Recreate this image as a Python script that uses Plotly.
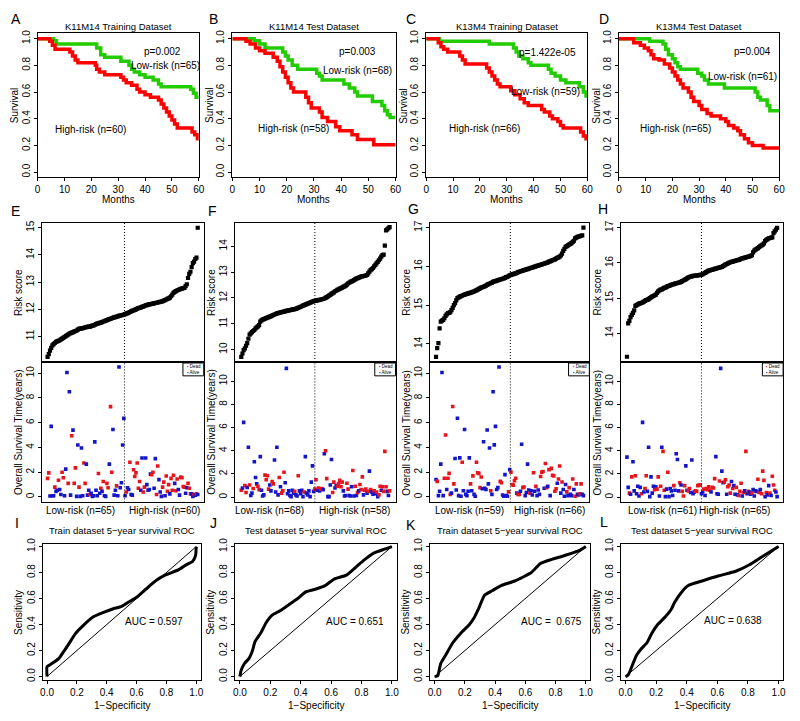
import plotly.graph_objects as go

W, H = 800, 721
FONT = "Liberation Sans, Arial, sans-serif"
GREEN = "#22cc00"
RED = "#ff0000"
DEAD = "#e8141c"
ALIVE = "#1414c8"

# ---------------- Kaplan-Meier data (months, survival) ----------------
km_titles = ["K11M14 Training Dataset", "K11M14 Test Dataset", "K13M4 Training Dataset", "K13M4 Test Dataset"]
km_pvals = ["p=0.002", "p=0.003", "p=1.422e-05", "p=0.004"]
km_low_labels = ["Low-risk (n=65)", "Low-risk (n=68)", "Low-risk (n=59)", "Low-risk (n=61)"]
km_high_labels = ["High-risk (n=60)", "High-risk (n=58)", "High-risk (n=66)", "High-risk (n=65)"]

kmA_low_t = [0, 6, 7, 22, 23.5, 25, 31, 34, 35, 36, 38, 40, 43, 45, 46, 57, 58, 59, 60]
kmA_low_s = [1, 0.985, 0.96, 0.93, 0.88, 0.86, 0.83, 0.80, 0.77, 0.75, 0.73, 0.71, 0.69, 0.66, 0.64, 0.62, 0.59, 0.56, 0.56]
kmA_high_t = [0, 4.5, 5.5, 6.5, 12, 13, 14, 15, 21.5, 22, 23, 25, 31, 32, 33, 35, 37, 38, 40, 42, 45, 46, 47, 48, 49, 50, 51, 52, 57.5, 58.5, 59.5, 60]
kmA_high_s = [1, 0.98, 0.95, 0.92, 0.90, 0.87, 0.84, 0.82, 0.80, 0.77, 0.75, 0.73, 0.71, 0.69, 0.67, 0.65, 0.62, 0.60, 0.58, 0.56, 0.54, 0.51, 0.48, 0.45, 0.42, 0.39, 0.36, 0.33, 0.30, 0.28, 0.25, 0.25]

kmB_low_t = [0, 8, 10, 12, 18.5, 19.5, 20.5, 22, 24, 31, 32, 33, 41, 43, 45, 46, 51.5, 55, 56, 57, 58, 60]
kmB_low_s = [1, 0.985, 0.96, 0.93, 0.90, 0.87, 0.84, 0.80, 0.77, 0.74, 0.72, 0.69, 0.66, 0.63, 0.60, 0.57, 0.53, 0.50, 0.46, 0.43, 0.41, 0.41]
kmB_high_t = [0, 5, 6.5, 8.5, 10, 12, 15, 16.5, 17.5, 18.5, 19.5, 20.5, 21.5, 22.5, 27, 28, 29, 32, 33, 35, 38, 39.5, 44, 46, 52, 60]
kmB_high_s = [1, 0.98, 0.96, 0.93, 0.91, 0.89, 0.86, 0.83, 0.79, 0.75, 0.71, 0.67, 0.63, 0.60, 0.56, 0.52, 0.48, 0.45, 0.41, 0.38, 0.34, 0.31, 0.28, 0.245, 0.205, 0.205]

kmC_low_t = [0, 5, 23.5, 32.5, 33.5, 34.5, 36, 38, 39, 45.5, 46.5, 48, 50, 52, 57, 58.5, 59.5, 60]
kmC_low_s = [1, 0.98, 0.96, 0.93, 0.90, 0.87, 0.85, 0.82, 0.80, 0.77, 0.74, 0.72, 0.69, 0.67, 0.64, 0.60, 0.57, 0.57]
kmC_high_t = [0, 4.5, 5.5, 6.5, 8, 12.5, 13.5, 14.5, 22.5, 23.5, 24.5, 25.5, 26.5, 27.5, 31.5, 33, 35, 36.5, 38, 43, 44, 46, 47, 49, 50, 51, 57.5, 58.5, 59.5, 60]
kmC_high_s = [1, 0.97, 0.94, 0.92, 0.90, 0.87, 0.84, 0.81, 0.78, 0.75, 0.72, 0.69, 0.66, 0.64, 0.61, 0.58, 0.55, 0.52, 0.50, 0.47, 0.45, 0.42, 0.40, 0.38, 0.35, 0.33, 0.30, 0.27, 0.25, 0.25]

kmD_low_t = [0, 11.5, 16.5, 17.5, 18.5, 20, 21, 22, 23, 29.5, 31, 32, 33.5, 39.5, 51, 52, 53, 55.5, 56.5, 60]
kmD_low_s = [1, 0.98, 0.96, 0.92, 0.88, 0.85, 0.82, 0.79, 0.77, 0.74, 0.72, 0.69, 0.66, 0.63, 0.60, 0.56, 0.54, 0.50, 0.46, 0.46]
kmD_high_t = [0, 5.5, 8, 9.5, 11, 12, 13, 15, 17, 19, 20, 21, 22, 23, 24, 26, 27, 28, 30, 31, 33, 34.5, 38, 40, 41, 43, 44.5, 45.5, 47, 48.5, 50, 54, 60]
kmD_high_s = [1, 0.97, 0.95, 0.93, 0.91, 0.88, 0.85, 0.84, 0.81, 0.78, 0.75, 0.72, 0.69, 0.66, 0.63, 0.60, 0.56, 0.53, 0.50, 0.47, 0.44, 0.42, 0.40, 0.38, 0.35, 0.33, 0.31, 0.28, 0.25, 0.22, 0.20, 0.18, 0.18]

# ---------------- Risk score (sorted) ----------------
risk_E = [
    10.25, 10.35, 10.48, 10.58, 10.67, 10.72, 10.76, 10.80, 10.82, 10.84,
    10.86, 10.89, 10.92, 10.95, 10.98, 11.01, 11.04, 11.07, 11.10, 11.12,
    11.14, 11.16, 11.18, 11.20, 11.22, 11.25, 11.28, 11.29, 11.30, 11.31,
    11.32, 11.33, 11.34, 11.35, 11.36, 11.36, 11.38, 11.40, 11.41, 11.43,
    11.45, 11.47, 11.48, 11.50, 11.51, 11.53, 11.55, 11.56, 11.58, 11.60,
    11.62, 11.64, 11.65, 11.67, 11.68, 11.70, 11.71, 11.73, 11.74, 11.76,
    11.77, 11.78, 11.79, 11.80, 11.82, 11.84, 11.86, 11.88, 11.90, 11.92,
    11.94, 11.96, 11.98, 12.00, 12.02, 12.04, 12.05, 12.07, 12.09, 12.10,
    12.12, 12.14, 12.15, 12.17, 12.18, 12.19, 12.20, 12.21, 12.22, 12.23,
    12.24, 12.25, 12.26, 12.27, 12.28, 12.30, 12.32, 12.34, 12.36, 12.38,
    12.40, 12.43, 12.48, 12.54, 12.60, 12.64, 12.67, 12.69, 12.71, 12.73,
    12.75, 12.76, 12.78, 12.79, 12.85, 12.92, 13.15, 13.30, 13.38, 13.55,
    13.70, 13.75, 13.85, 13.90, 15.00]
risk_F = [
    9.72, 9.85, 9.98, 10.05, 10.15, 10.25, 10.42, 10.58, 10.63, 10.68,
    10.72, 10.76, 10.82, 10.86, 10.90, 10.95, 11.08, 11.13, 11.16, 11.18,
    11.20, 11.22, 11.24, 11.26, 11.28, 11.30, 11.32, 11.34, 11.36, 11.38,
    11.40, 11.41, 11.42, 11.44, 11.45, 11.46, 11.47, 11.48, 11.50, 11.51,
    11.52, 11.53, 11.54, 11.55, 11.56, 11.57, 11.58, 11.60, 11.62, 11.64,
    11.66, 11.68, 11.70, 11.72, 11.74, 11.76, 11.78, 11.80, 11.82, 11.84,
    11.86, 11.88, 11.89, 11.90, 11.91, 11.92, 11.93, 11.94, 11.95, 11.96,
    11.98, 12.00, 12.03, 12.06, 12.09, 12.12, 12.16, 12.19, 12.22, 12.26,
    12.28, 12.31, 12.33, 12.36, 12.38, 12.40, 12.43, 12.45, 12.48, 12.52,
    12.56, 12.59, 12.62, 12.64, 12.66, 12.69, 12.72, 12.75, 12.77, 12.79,
    12.81, 12.83, 12.84, 12.85, 12.86, 12.87, 12.89, 12.95, 13.02, 13.08,
    13.12, 13.16, 13.22, 13.28, 13.34, 13.40, 13.46, 13.52, 13.60, 13.66,
    13.68, 14.03, 14.62, 14.66, 14.70, 14.74]
risk_G = [
    13.66, 13.89, 14.02, 14.40, 14.57, 14.60, 14.62, 14.66, 14.72, 14.76,
    14.79, 14.80, 14.82, 14.87, 14.93, 15.00, 15.05, 15.12, 15.18, 15.20,
    15.22, 15.23, 15.24, 15.26, 15.27, 15.28, 15.29, 15.30, 15.31, 15.32,
    15.33, 15.34, 15.35, 15.37, 15.38, 15.40, 15.42, 15.43, 15.45, 15.46,
    15.47, 15.49, 15.50, 15.52, 15.54, 15.55, 15.57, 15.58, 15.60, 15.61,
    15.62, 15.63, 15.64, 15.65, 15.66, 15.67, 15.68, 15.69, 15.70, 15.72,
    15.73, 15.75, 15.77, 15.78, 15.79, 15.80, 15.81, 15.82, 15.83, 15.85,
    15.86, 15.87, 15.88, 15.89, 15.90, 15.91, 15.92, 15.93, 15.94, 15.95,
    15.96, 15.97, 15.98, 15.99, 16.00, 16.01, 16.02, 16.03, 16.04, 16.05,
    16.06, 16.07, 16.08, 16.09, 16.10, 16.12, 16.13, 16.14, 16.16, 16.17,
    16.18, 16.20, 16.22, 16.23, 16.25, 16.28, 16.33, 16.40, 16.45, 16.50,
    16.52, 16.54, 16.56, 16.58, 16.60, 16.63, 16.66, 16.72, 16.74, 16.76,
    16.77, 16.78, 16.79, 16.80, 17.00]
risk_H = [
    13.33, 14.28, 14.35, 14.46, 14.52, 14.58, 14.65, 14.78, 14.80, 14.82,
    14.84, 14.85, 14.86, 14.88, 14.90, 14.92, 14.94, 14.95, 14.97, 15.00,
    15.02, 15.04, 15.06, 15.08, 15.10, 15.15, 15.19, 15.22, 15.24, 15.25,
    15.27, 15.29, 15.30, 15.32, 15.34, 15.35, 15.36, 15.38, 15.39, 15.40,
    15.41, 15.42, 15.43, 15.44, 15.45, 15.46, 15.48, 15.50, 15.52, 15.54,
    15.56, 15.58, 15.60, 15.61, 15.62, 15.63, 15.63, 15.64, 15.64, 15.65,
    15.65, 15.66, 15.66, 15.68, 15.70, 15.72, 15.74, 15.76, 15.78, 15.79,
    15.80, 15.81, 15.82, 15.83, 15.84, 15.85, 15.86, 15.87, 15.88, 15.89,
    15.91, 15.93, 15.95, 15.97, 15.99, 16.00, 16.02, 16.03, 16.04, 16.05,
    16.06, 16.07, 16.08, 16.09, 16.10, 16.12, 16.13, 16.14, 16.15, 16.16,
    16.17, 16.18, 16.19, 16.20, 16.22, 16.30, 16.35, 16.38, 16.40, 16.42,
    16.45, 16.48, 16.50, 16.52, 16.56, 16.62, 16.66, 16.68, 16.70, 16.71,
    16.72, 16.73, 16.85, 16.90, 16.95, 17.00]
risk_cut = [64.5, 63.0, 63.5, 63.0]

# ---------------- Overall survival time (years) and status D=dead, A=alive ----------------
os_E = [
    1.5, 1.95, 0.08, 5.7, 0.1, 0.1, 0.8, 0.45, 0.55, 1.35,
    0.6, 0.2, 2.0, 1.55, 0.1, 2.25, 10.05, 1.1, 8.5, 0.15,
    4.95, 5.4, 1.1, 2.35, 0.05, 4.2, 0.8, 0.05, 3.95, 0.1,
    2.75, 1.1, 2.65, 0.15, 0.55, 0.2, 0.3, 0.05, 0.1, 4.45,
    0.55, 0.1, 1.9, 0.3, 0.7, 0.45, 1.25, 0.1, 0.05, 1.1,
    0.75, 2.65, 7.3, 2.0, 5.45, 0.15, 0.55, 0.9, 0.1, 10.5,
    0.75, 1.15, 4.2, 6.35, 0.1,
    0.4, 0.75, 0.6, 2.8, 0.2, 0.15, 2.2, 1.65, 1.95, 2.75,
    0.7, 1.25, 0.55, 3.15, 0.4, 0.8, 3.15, 1.0, 0.55, 0.6,
    1.85, 1.8, 2.0, 0.7, 3.1, 0.2, 2.5, 1.4, 0.4, 0.05,
    0.8, 1.2, 0.1, 1.7, 0.45, 1.0, 0.25, 1.5, 0.55, 1.75,
    1.1, 0.5, 1.45, 0.6, 0.15, 1.6, 1.55, 0.85, 0.8, 0.3,
    0.75, 1.1, 0.7, 0.25, 0.25, 0.05, 0.2, 0.15, 0.25, 0.2]
st_E = ("DDAAAADAAD" "AADDAAADAA" "DADDAADAAA" "DDAAADAAAA" "AADADADAAD"
        "DADDAAADAA" "AAAAA" "DAADAADDDD" "DDAADDAAAA" "ADDAADDAAA"
        "DDADDDADDD" "ADDAADDDDA" "ADDDAADADA")
os_F = [
    0.6, 0.8, 6.45, 1.0, 0.4, 0.85, 4.3, 1.05, 0.15, 0.35,
    0.75, 3.05, 1.7, 1.15, 0.95, 0.65, 3.5, 0.6, 0.1, 0.2,
    1.9, 1.5, 1.85, 0.7, 1.05, 0.55, 1.35, 1.15, 3.2, 0.45,
    4.3, 0.2, 1.7, 0.9, 0.35, 0.55, 2.15, 1.25, 11.1, 0.3,
    0.55, 0.15, 0.05, 0.6, 0.35, 0.5, 0.2, 0.1, 1.85, 0.55,
    0.3, 0.6, 0.05, 0.45, 3.5, 0.35, 0.2, 0.55, 0.05, 1.3,
    2.7, 0.5, 0.7, 1.5, 0.6, 0.8, 0.55, 0.7, 0.75, 0.65,
    3.75, 4.0, 1.6, 0.05, 0.05, 1.05, 3.25, 0.4, 1.3, 0.8,
    1.0, 0.95, 1.15, 1.45, 0.9, 1.3, 0.55, 0.1, 0.15, 1.2,
    0.7, 0.15, 0.1, 0.9, 2.3, 0.1, 0.95, 0.15, 0.4, 0.55,
    1.1, 0.65, 1.75, 0.2, 0.6, 0.7, 0.35, 0.5, 2.25, 0.65,
    0.45, 0.25, 0.55, 0.3, 0.45, 0.05, 0.2, 0.95, 0.6, 0.9,
    0.5, 3.95, 0.9, 0.5, 0.15, 0.55]
st_F = ("DAADDAADAA" "DAAADDAAAA" "DDDDAADDAA" "AADADDDAAA" "AAAAADAADA"
        "AAADAAAAAA" "AADDADADDA" "ADDAAAADDA" "ADDDDDAAAD" "DAAADADADA"
        "DDDADDADAD" "AADADADDAD" "DDDAAD")
os_G = [
    1.4, 1.25, 0.1, 0.45, 2.65, 10.05, 0.1, 1.5, 5.0, 0.6,
    1.5, 1.9, 0.2, 0.3, 7.3, 1.05, 3.1, 0.55, 6.35, 0.1,
    3.15, 0.05, 2.8, 0.5, 5.45, 0.2, 0.1, 0.45, 3.15, 1.05,
    0.5, 1.7, 0.2, 0.05, 2.8, 1.95, 1.9, 0.75, 1.6, 0.65,
    4.45, 0.7, 0.6, 5.4, 1.05, 3.95, 0.5, 0.2, 8.5, 4.2,
    5.7, 0.6, 0.75, 10.5, 1.25, 1.15, 0.15, 0.05, 1.8, 0.1,
    0.05, 0.4, 2.2, 2.0, 1.0, 0.95, 1.3, 1.5, 0.3, 0.2,
    0.2, 0.45, 4.25, 0.75, 0.8, 0.1, 0.35, 2.65, 0.55, 0.3,
    0.5, 0.15, 1.95, 0.45, 0.85, 0.1, 0.55, 0.2, 1.65, 2.0,
    2.05, 0.7, 2.7, 0.75, 0.85, 2.2, 0.1, 2.3, 1.75, 1.7,
    0.45, 0.65, 1.1, 1.45, 2.5, 0.3, 1.2, 0.6, 0.05, 1.0,
    0.4, 0.1, 0.75, 0.2, 0.1, 1.45, 0.6, 0.05, 1.05, 0.2,
    0.15, 0.25, 1.05, 0.2, 0.1]
st_G = ("ADAAAAADDA" "DDDADDAAAA" "AADAAAAAAD" "ADAADDDDDA" "AAAAAADAAA"
        "AAAADDAAAA" "ADADDDDDAD" "DAADDAAAAD" "AADADAAADD" "DADDADADDD"
        "DDADDADAAA" "DADAADADDA" "ADDAA")
os_H = [
    3.45, 0.85, 0.35, 0.25, 1.75, 3.05, 0.55, 1.85, 0.3, 0.95,
    0.1, 0.85, 0.3, 6.45, 0.45, 0.75, 1.85, 0.5, 4.3, 0.05,
    1.75, 0.35, 0.95, 0.65, 0.9, 0.7, 1.75, 0.1, 0.95, 4.3,
    3.95, 0.6, 0.05, 0.7, 2.15, 0.05, 0.75, 0.55, 0.15, 1.0,
    0.6, 3.75, 3.25, 0.55, 1.25, 1.05, 0.5, 0.1, 1.0, 2.7,
    0.6, 0.55, 0.75, 0.4, 3.2, 0.3, 0.45, 0.55, 0.5, 1.0,
    1.05, 1.05, 0.3, 0.45, 0.7, 0.15, 0.75, 0.65, 0.9, 0.6,
    0.45, 0.85, 0.8, 1.6, 3.5, 0.3, 0.25, 1.4, 11.1, 2.25,
    1.25, 1.3, 1.5, 0.25, 0.9, 1.05, 0.35, 1.35, 0.75, 1.0,
    0.25, 0.85, 0.2, 0.15, 0.5, 1.2, 0.1, 0.4, 0.55, 3.95,
    0.3, 0.5, 0.45, 0.25, 0.35, 0.65, 0.1, 0.55, 0.5, 1.55,
    0.4, 0.65, 0.3, 2.25, 1.45, 0.05, 0.4, 0.2, 1.0, 0.35,
    0.15, 1.8, 1.05, 0.6, 0.45, 0.05]
st_H = ("AADADAADAA" "AADAADDAAA" "AAADADDADA" "DDAADAAAAD" "AAAADADDDA"
        "ADDAAAADDD" "DDAADADDDD" "ADDDAAADAA" "ADDADDDADA" "ADADDDADAD"
        "ADAADAAAAD" "DADDDADAAD" "ADDDAA")
sc_low_labels = ["Low-risk (n=65)", "Low-risk (n=68)", "Low-risk (n=59)", "Low-risk (n=61)"]
sc_high_labels = ["High-risk (n=60)", "High-risk (n=58)", "High-risk (n=66)", "High-risk (n=65)"]

# ---------------- ROC curves ----------------
roc_titles = ["Train dataset 5\u2212year survival ROC", "Test dataset 5\u2212year survival ROC",
              "Train dataset 5\u2212year survival ROC", "Test dataset 5\u2212year survival ROC"]
roc_auc = ["AUC = 0.597", "AUC = 0.651", "AUC =  0.675", "AUC = 0.638"]
rocI_x = [0, 0.0, 0.02, 0.08, 0.11, 0.14, 0.19, 0.24, 0.31, 0.37, 0.44, 0.50, 0.55, 0.60, 0.66, 0.72, 0.79, 0.88, 0.94, 0.975, 0.995, 1.0]
rocI_y = [0, 0.076, 0.09, 0.14, 0.19, 0.24, 0.33, 0.39, 0.46, 0.49, 0.52, 0.54, 0.575, 0.61, 0.67, 0.73, 0.78, 0.82, 0.865, 0.885, 0.93, 1.0]
rocJ_x = [0, 0.006, 0.03, 0.06, 0.08, 0.10, 0.14, 0.17, 0.21, 0.27, 0.33, 0.38, 0.43, 0.49, 0.56, 0.62, 0.70, 0.77, 0.82, 0.88, 0.95, 1.0]
rocJ_y = [0, 0.04, 0.10, 0.14, 0.19, 0.27, 0.34, 0.41, 0.47, 0.51, 0.56, 0.60, 0.65, 0.67, 0.70, 0.75, 0.78, 0.85, 0.90, 0.95, 0.98, 1.0]
rocK_x = [0, 0.02, 0.03, 0.04, 0.075, 0.12, 0.17, 0.23, 0.26, 0.29, 0.33, 0.38, 0.44, 0.53, 0.64, 0.70, 0.77, 0.83, 0.91, 0.96, 1.0]
rocK_y = [0, 0.005, 0.05, 0.10, 0.17, 0.26, 0.33, 0.40, 0.45, 0.52, 0.625, 0.66, 0.70, 0.735, 0.80, 0.87, 0.90, 0.92, 0.95, 0.97, 1.0]
rocL_x = [0, 0.015, 0.025, 0.07, 0.10, 0.14, 0.17, 0.21, 0.26, 0.30, 0.32, 0.37, 0.41, 0.50, 0.61, 0.72, 0.81, 0.89, 1.0]
rocL_y = [0, 0.01, 0.03, 0.16, 0.21, 0.26, 0.33, 0.40, 0.46, 0.52, 0.57, 0.655, 0.70, 0.735, 0.775, 0.81, 0.86, 0.92, 1.0]

panel_letters = ["A", "B", "C", "D", "E", "F", "G", "H", "I", "J", "K", "L"]

# ---------------- layout geometry (pixels) ----------------
km_boxes = [(35, 27.6, 198, 173.4), (232, 27.6, 397, 173.4), (428, 27.6, 591, 173.4), (623, 27.6, 785, 173.4)]
risk_boxes = [(39, 219, 203, 360), (235, 219, 397, 360), (432, 219, 593, 360), (625, 219, 789, 360)]
os_boxes = [(39, 360, 203, 502), (235, 360, 397, 502), (432, 360, 593, 502), (625, 360, 789, 502)]
roc_boxes = [(40, 544, 200, 682), (235, 544, 398, 682), (432, 544, 594, 682), (625, 544, 789, 682)]
letter_pos = [(13, 13), (213, 13), (413, 13), (608, 13), (13, 207), (212, 207), (415, 205), (607, 205),
              (14, 523), (213, 523), (413, 525), (608, 522)]

fig = go.Figure()
axes = {}
annotations = []
shapes = []
counter = [0]


def add_axes(box, xrange, yrange, xkw=None, ykw=None):
    counter[0] += 1
    i = counter[0]
    sfx = "" if i == 1 else str(i)
    x0, y0, x1, y1 = box
    base = dict(showline=True, mirror=True, linecolor="black", linewidth=1, showgrid=False,
                zeroline=False, ticks="outside", ticklen=3, tickwidth=1, tickcolor="black",
                tickfont=dict(size=10, family=FONT, color="black"), fixedrange=True)
    xa = dict(base, domain=[x0 / W, x1 / W], range=xrange, anchor="y" + sfx)
    ya = dict(base, domain=[1 - y1 / H, 1 - y0 / H], range=yrange, anchor="x" + sfx, tickangle=-90)
    if xkw:
        xa.update(xkw)
    if ykw:
        ya.update(ykw)
    axes["xaxis" + sfx] = xa
    axes["yaxis" + sfx] = ya
    return "x" + sfx, "y" + sfx


def ann_px(x, y, text, size=10, angle=0, xanchor="center", yanchor="middle", color="black"):
    annotations.append(dict(x=x / W, y=1 - y / H, xref="paper", yref="paper", text=text,
                            showarrow=False, textangle=angle, xanchor=xanchor, yanchor=yanchor,
                            font=dict(size=size, family=FONT, color=color)))


def ann_data(xr, yr, x, y, text, size=10):
    annotations.append(dict(x=x, y=y, xref=xr, yref=yr, text=text, showarrow=False,
                            font=dict(size=size, family=FONT, color="black")))


# ---- KM row ----
km_data = [(kmA_low_t, kmA_low_s, kmA_high_t, kmA_high_s),
           (kmB_low_t, kmB_low_s, kmB_high_t, kmB_high_s),
           (kmC_low_t, kmC_low_s, kmC_high_t, kmC_high_s),
           (kmD_low_t, kmD_low_s, kmD_high_t, kmD_high_s)]
km_p_pos = [(46.5, 0.905), (46, 0.90), (45, 0.895), (50, 0.90)]
km_low_pos = [(47.7, 0.80), (46, 0.76), (44.3, 0.605), (46.4, 0.72)]
km_high_pos = [(19.6, 0.32), (22.3, 0.33), (21.6, 0.326), (21.2, 0.326)]
for k in range(4):
    box = km_boxes[k]
    xr, yr = add_axes(box, [0, 60], [-0.04, 1.04],
                      dict(tickvals=[0, 10, 20, 30, 40, 50, 60]),
                      dict(tickvals=[0, 0.2, 0.4, 0.6, 0.8, 1.0], tickformat=".1f"))
    lt, ls, ht, hs = km_data[k]
    fig.add_trace(go.Scatter(x=lt, y=ls, mode="lines", line=dict(color=GREEN, width=3.5, shape="hv"),
                             xaxis=xr, yaxis=yr, showlegend=False, hoverinfo="skip"))
    fig.add_trace(go.Scatter(x=ht, y=hs, mode="lines", line=dict(color=RED, width=3.5, shape="hv"),
                             xaxis=xr, yaxis=yr, showlegend=False, hoverinfo="skip"))
    ann_data(xr, yr, km_p_pos[k][0], km_p_pos[k][1], km_pvals[k])
    ann_data(xr, yr, km_low_pos[k][0], km_low_pos[k][1], km_low_labels[k])
    ann_data(xr, yr, km_high_pos[k][0], km_high_pos[k][1], km_high_labels[k])
    cx = (box[0] + box[2]) / 2
    ann_px(cx, 21, km_titles[k], size=9.5)
    ann_px(cx, 196, "Months", size=10)
    ann_px(box[0] - 23, (box[1] + box[3]) / 2, "Survival", size=10, angle=-90)

# ---- risk score row + survival time row ----
risk_data = [risk_E, risk_F, risk_G, risk_H]
os_data = [(os_E, st_E), (os_F, st_F), (os_G, st_G), (os_H, st_H)]
risk_ranges = [[10.06, 15.19], [9.52, 14.92], [13.53, 17.13], [13.18, 17.15]]
risk_ticks = [[11, 12, 13, 14, 15], [10, 11, 12, 13, 14], [14, 15, 16, 17], [14, 15, 16, 17]]
os_ranges = [[-0.44, 10.9], [-0.45, 11.65], [-0.45, 10.9], [-0.45, 11.65]]
sc_label_px = [(78, 163), (270, 355), (472, 553), (667, 740)]
for k in range(4):
    vals = risk_data[k]
    n = len(vals)
    idx = list(range(1, n + 1))
    xrange_ = [1 - 0.04 * (n - 1), n + 0.04 * (n - 1)]
    noticks = dict(showticklabels=False, ticks="")
    xr, yr = add_axes(risk_boxes[k], xrange_, risk_ranges[k], noticks, dict(tickvals=risk_ticks[k]))
    fig.add_trace(go.Scatter(x=idx, y=vals, mode="markers",
                             marker=dict(symbol="square", size=4.2, color="black"),
                             xaxis=xr, yaxis=yr, showlegend=False, hoverinfo="skip"))
    shapes.append(dict(type="line", xref=xr, yref=yr + " domain", x0=risk_cut[k], x1=risk_cut[k],
                       y0=0, y1=1, line=dict(color="black", width=1, dash="1px,2px")))
    bx = risk_boxes[k]
    ann_px(bx[0] - 24, (bx[1] + bx[3]) / 2, "Risk score", size=10, angle=-90)

    times, st = os_data[k]
    m = len(times)
    idx2 = list(range(1, m + 1))
    xr2, yr2 = add_axes(os_boxes[k], [1 - 0.04 * (m - 1), m + 0.04 * (m - 1)], os_ranges[k],
                        noticks, dict(tickvals=[0, 2, 4, 6, 8, 10]))
    cols = [DEAD if s == "D" else ALIVE for s in st]
    fig.add_trace(go.Scatter(x=idx2, y=times, mode="markers",
                             marker=dict(symbol="square", size=3.6, color=cols),
                             xaxis=xr2, yaxis=yr2, showlegend=False, hoverinfo="skip"))
    shapes.append(dict(type="line", xref=xr2, yref=yr2 + " domain", x0=risk_cut[k], x1=risk_cut[k],
                       y0=0, y1=1, line=dict(color="black", width=1, dash="1px,2px")))
    ob = os_boxes[k]
    ann_px(ob[0] - 24, (ob[1] + ob[3]) / 2, "Overall Survival Time(years)", size=10, angle=-90)
    ann_px(sc_label_px[k][0], 510, sc_low_labels[k], size=10)
    ann_px(sc_label_px[k][1], 510, sc_high_labels[k], size=10)
    # small legend box
    lx1 = ob[2]
    lx0 = lx1 - 21
    ly0 = ob[1] + 1
    ly1 = ob[1] + 14
    shapes.append(dict(type="rect", xref="paper", yref="paper", x0=lx0 / W, x1=lx1 / W,
                       y0=1 - ly1 / H, y1=1 - ly0 / H, line=dict(color="black", width=1),
                       fillcolor="white"))
    ann_px(lx0 + 2, ly0 + 4, "<span style='color:%s'>\u25aa</span> Dead" % DEAD, size=4.5, xanchor="left")
    ann_px(lx0 + 2, ly0 + 9.5, "<span style='color:%s'>\u25aa</span> Alive" % ALIVE, size=4.5, xanchor="left")

# ---- ROC row ----
roc_data = [(rocI_x, rocI_y), (rocJ_x, rocJ_y), (rocK_x, rocK_y), (rocL_x, rocL_y)]
auc_pos = [(0.72, 0.42), (0.76, 0.42), (0.77, 0.42), (0.70, 0.43)]
for k in range(4):
    box = roc_boxes[k]
    tv = [0, 0.2, 0.4, 0.6, 0.8, 1.0]
    xr, yr = add_axes(box, [-0.03, 1.03], [-0.03, 1.02],
                      dict(tickvals=tv, tickformat=".1f"), dict(tickvals=tv, tickformat=".1f"))
    fig.add_trace(go.Scatter(x=[0, 1], y=[0, 1], mode="lines", line=dict(color="black", width=1),
                             xaxis=xr, yaxis=yr, showlegend=False, hoverinfo="skip"))
    rx, ry = roc_data[k]
    fig.add_trace(go.Scatter(x=rx, y=ry, mode="lines",
                             line=dict(color="black", width=3, shape="spline", smoothing=0.5),
                             xaxis=xr, yaxis=yr, showlegend=False, hoverinfo="skip"))
    ann_data(xr, yr, auc_pos[k][0], auc_pos[k][1], roc_auc[k])
    cx = (box[0] + box[2]) / 2
    ann_px(cx, 530, roc_titles[k], size=9.5)
    ann_px(cx, 707, "1\u2212Specificity", size=10)
    ann_px(box[0] - 25, (box[1] + box[3]) / 2, "Sensitivity", size=10, angle=-90)

for i, (lx, ly) in enumerate(letter_pos):
    ann_px(lx, ly, panel_letters[i], size=14)

fig.update_layout(width=W, height=H, margin=dict(l=0, r=0, t=0, b=0),
                  paper_bgcolor="white", plot_bgcolor="white",
                  annotations=annotations, shapes=shapes, showlegend=False,
                  font=dict(family=FONT, color="black"), **axes)

fig.write_html("out.html", config={"displayModeBar": False, "staticPlot": True},
               post_script="document.body.style.margin='0px';document.body.style.overflow='hidden';")
